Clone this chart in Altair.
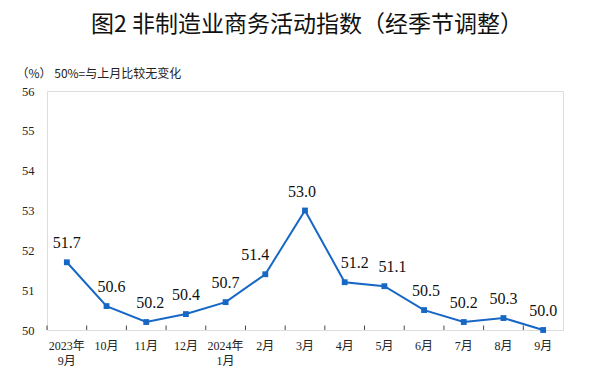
import altair as alt
import pandas as pd

months = ["2023年|9月", "10月", "11月", "12月", "2024年|1月", "2月", "3月",
          "4月", "5月", "6月", "7月", "8月", "9月"]
values = [51.7, 50.6, 50.2, 50.4, 50.7, 51.4, 53.0, 51.2, 51.1, 50.5, 50.2, 50.3, 50.0]
y_ticks = [50, 51, 52, 53, 54, 55, 56]

title_text = "图2 非制造业商务活动指数（经季节调整）"
unit_text = "（%） 50%=与上月比较无变化"

df = pd.DataFrame({"month": months, "value": values})

SERIF = "Times New Roman, Liberation Serif, Noto Sans CJK SC"
BLUE = "#1767C4"
W, H = 516, 239
BAND = W / len(months)

x_enc = alt.X("month:N", sort=months,
              scale=alt.Scale(paddingInner=0, paddingOuter=0),
              axis=alt.Axis(title=None, labelAngle=0, ticks=False, domain=False,
                            labelOverlap=False,
                            labelExpr="split(datum.label, '|')",
                            labelFont=SERIF, labelFontSize=12, labelColor="#222",
                            labelPadding=10, labelBaseline="top", labelLineHeight=15))
y_enc = alt.Y("value:Q",
              scale=alt.Scale(domain=[50, 56], nice=False, zero=False),
              axis=alt.Axis(values=y_ticks, grid=False, ticks=False, domain=False,
                            labelOverlap=False,
                            labelFont=SERIF, labelFontSize=12.5, labelColor="#222",
                            labelPadding=13,
                            title=unit_text, titleAngle=0, titleAlign="left",
                            titleBaseline="middle", titleX=-31, titleY=-18,
                            titleFont="Noto Sans CJK SC", titleFontSize=12,
                            titleFontWeight="normal", titleColor="#222"))

base = alt.Chart(df)

line = base.mark_line(color=BLUE, strokeWidth=2).encode(x=x_enc, y=y_enc)

# inner tick marks at band boundaries, pointing up into the plot
ticks = base.mark_rule(color="#444", strokeWidth=1, xOffset=-BAND / 2).encode(
    x=x_enc, y=alt.value(H), y2=alt.value(H - 4.5))

pts = base.mark_point(shape="square", filled=True, size=34, color=BLUE, opacity=1).encode(
    x=x_enc, y=y_enc)

# label nudges (pixels) for a few points, everything else centered
nudges = {"10月": 5, "11月": 4, "2月": -10, "3月": -3, "4月": 10, "5月": 8, "6月": 2}
label_layers = []
groups = {}
for m in months:
    groups.setdefault(nudges.get(m, 0), []).append(m)
for dx, ms in groups.items():
    label_layers.append(
        base.transform_filter(alt.FieldOneOfPredicate(field="month", oneOf=ms))
        .mark_text(dy=-19, dx=dx, font=SERIF, fontSize=16, color="#111", baseline="middle")
        .encode(x=x_enc, y=y_enc, text=alt.Text("value:Q", format=".1f")))

chart = alt.layer(line, ticks, pts, *label_layers).properties(
    width=W, height=H,
    title=alt.TitleParams(title_text, font="Noto Sans CJK SC", fontSize=23,
                          fontWeight="normal", color="#111", anchor="middle",
                          frame="group", offset=30, dx=2),
    autosize=alt.AutoSizeParams(type="none"),
    padding={"left": 47, "top": 91, "right": 45, "bottom": 48},
).configure_view(stroke="#555", strokeWidth=1).configure(background="white")

chart.save("out.html", embed_options={"renderer": "svg", "actions": False})
